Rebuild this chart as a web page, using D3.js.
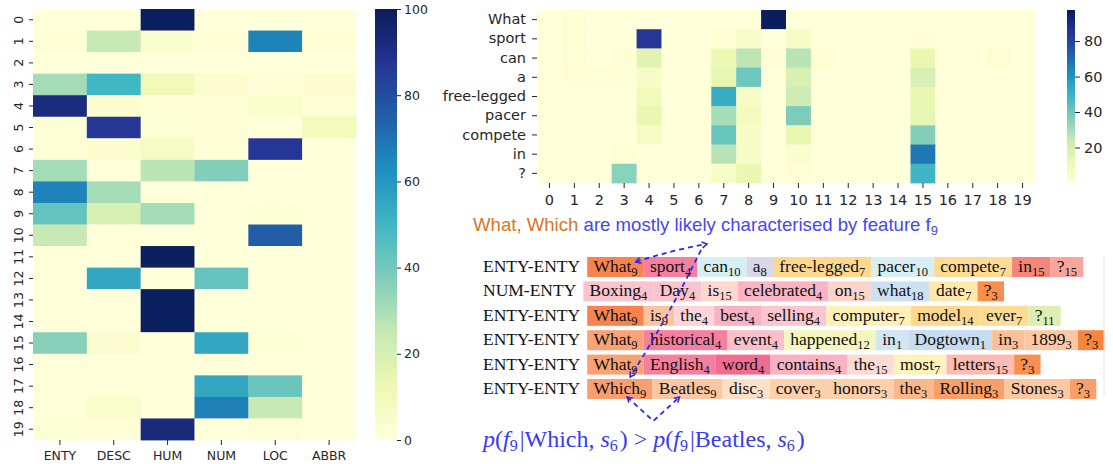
<!DOCTYPE html>
<html>
<head>
<meta charset="utf-8">
<script src="https://cdn.jsdelivr.net/npm/d3@7"></script>
<style>
  body { margin: 0; background: #fff; }
  svg { display: block; }
</style>
</head>
<body>
<div id="chart"></div>
<script>
// ---- data ----
const classes = ["ENTY", "DESC", "HUM", "NUM", "LOC", "ABBR"];
const features = ["0","1","2","3","4","5","6","7","8","9","10","11","12","13","14","15","16","17","18","19"];

// feature x class (rows = features)
const classByFeature = [
  [0, 0, 99, 0, 0, 0],
  [1, 25, 3, 1, 66, 1],
  [0, 0, 0, 0, 0, 0],
  [31, 50, 10, 3, 1, 3],
  [92, 3, 1, 1, 4, 1],
  [1, 87, 2, 1, 0, 9],
  [1, 3, 7, 1, 87, 0],
  [31, 0, 27, 37, 0, 0],
  [66, 31, 0, 0, 0, 0],
  [43, 20, 31, 0, 2, 0],
  [25, 0, 0, 0, 75, 0],
  [0, 0, 99, 0, 0, 0],
  [0, 55, 0, 43, 0, 0],
  [0, 0, 99, 0, 0, 0],
  [0, 0, 99, 0, 0, 0],
  [36, 3, 0, 55, 2, 0],
  [0, 0, 0, 0, 0, 0],
  [0, 0, 0, 55, 42, 0],
  [0, 4, 0, 67, 25, 0],
  [2, 1, 93, 0, 1, 0]
];

const words = ["What", "sport", "can", "a", "free-legged", "pacer", "compete", "in", "?"];
// word x feature
const wordByFeature = [
  [0, 2, 0, 0, 0, 0, 0, 0, 0, 97, 0, 0, 0, 0, 0, 0, 0, 0, 0, 0],
  [0, 2, 0, 0, 85, 0, 0, 2, 5, 0, 6, 0, 0, 0, 0, 1, 0, 0, 0, 0],
  [0, 2, 0, 1, 16, 0, 0, 12, 26, 1, 27, 2, 0, 0, 0, 13, 0, 0, 2, 0],
  [0, 1, 1, 1, 6, 0, 0, 14, 40, 0, 19, 0, 0, 0, 0, 19, 0, 0, 0, 0],
  [0, 0, 0, 0, 9, 0, 0, 52, 6, 0, 22, 0, 0, 0, 0, 13, 0, 0, 0, 0],
  [0, 0, 0, 0, 13, 0, 0, 30, 8, 0, 37, 0, 0, 0, 0, 14, 0, 0, 0, 0],
  [0, 0, 0, 0, 7, 0, 0, 41, 6, 0, 13, 0, 0, 0, 0, 36, 0, 0, 0, 0],
  [0, 0, 0, 1, 0, 0, 0, 27, 6, 0, 3, 0, 0, 0, 0, 67, 0, 0, 0, 0],
  [0, 0, 0, 35, 0, 0, 0, 5, 13, 0, 1, 0, 0, 0, 0, 49, 0, 0, 0, 0]
];

const sentenceLabels = ["ENTY-ENTY", "NUM-ENTY", "ENTY-ENTY", "ENTY-ENTY", "ENTY-ENTY", "ENTY-ENTY"];
// [token, feature, weight]
const sentenceTokens = [
  [["What", 9, 1.0], ["sport", 4, 0.8], ["can", 10, 0.6], ["a", 8, 0.6], ["free-legged", 7, 0.8],
   ["pacer", 10, 0.6], ["compete", 7, 0.75], ["in", 15, 0.89], ["?", 15, 0.58]],
  [["Boxing", 4, 0.23], ["Day", 4, 0.23], ["is", 15, 0.08], ["celebrated", 4, 0.36], ["on", 15, 0.14],
   ["what", 18, 0.6], ["date", 7, 0.35], ["?", 3, 0.87]],
  [["What", 9, 1.0], ["is", 9, 0.31], ["the", 4, 0.09], ["best", 4, 0.38], ["selling", 4, 0.22],
   ["computer", 7, 0.12], ["model", 14, 0.8], ["ever", 7, 0.7], ["?", 11, 0.6]],
  [["What", 9, 0.67], ["historical", 4, 0.8], ["event", 4, 0.27], ["happened", 12, 0.6], ["in", 1, 0.5],
   ["Dogtown", 1, 0.75], ["in", 3, 0.38], ["1899", 3, 0.3], ["?", 3, 0.97]],
  [["What", 9, 0.67], ["English", 4, 0.8], ["word", 4, 0.97], ["contains", 4, 0.38], ["the", 15, 0.05],
   ["most", 7, 0.05], ["letters", 15, 0.35], ["?", 3, 0.86]],
  [["Which", 9, 0.72], ["Beatles", 9, 0.28], ["disc", 3, 0.06], ["cover", 3, 0.22], ["honors", 3, 0.22],
   ["the", 3, 0.46], ["Rolling", 3, 0.7], ["Stones", 3, 0.3], ["?", 3, 0.7]]
];

// ---- styles ----
const ink = "#262626";
const axisFont = "DejaVu Sans, sans-serif";
const serif = "Liberation Serif, Times New Roman, serif";
const ylgnbu = ["#ffffd9", "#edf8b1", "#c7e9b4", "#7fcdbb", "#41b6c4", "#1d91c0", "#225ea8", "#253494", "#081d58"];
const featureRamp = {
  9: ["#fde0c4", "#f7844e"],
  4: ["#fde0e0", "#f26890"],
  3: ["#fee6d0", "#f7823c"],
  15: ["#fde0d8", "#f47a6e"],
  7: ["#fff4c0", "#fdd283"],
  14: ["#fff4c0", "#fdd283"],
  10: ["#eef8fa", "#c8e8ee"],
  8: ["#f0f0f6", "#c8c8de"],
  18: ["#eef4fa", "#b8d4ec"],
  1: ["#eef4fa", "#b8d4ec"],
  11: ["#f2f8d8", "#d0e898"],
  12: ["#fafcdc", "#eef4a8"]
};
const blue = "#2a2aee";

function cmap(vmin, vmax) {
  return d3.scaleLinear()
    .domain(ylgnbu.map((c, i) => vmin + (vmax - vmin) * i / 8))
    .range(ylgnbu)
    .clamp(true);
}

const svg = d3.select("#chart").append("svg")
  .attr("width", 1113)
  .attr("height", 464);

function styleAxis(g, size) {
  g.select(".domain").remove();
  g.selectAll("line").attr("stroke", ink);
  g.selectAll("text").attr("fill", ink).style("font-family", axisFont).style("font-size", size + "px");
}

function colorbar(id, x, w, y0, y1, vmin, vmax, ticks, size, tickLen, pad) {
  const col = cmap(vmin, vmax);
  const grad = svg.append("defs").append("linearGradient")
    .attr("id", id).attr("x1", 0).attr("y1", 1).attr("x2", 0).attr("y2", 0);
  d3.range(0, 1.0001, 0.02).forEach(t => {
    grad.append("stop").attr("offset", t).attr("stop-color", col(vmin + t * (vmax - vmin)));
  });
  svg.append("rect").attr("x", x).attr("y", y0).attr("width", w).attr("height", y1 - y0)
    .attr("fill", `url(#${id})`);
  const s = d3.scaleLinear().domain([vmin, vmax]).range([y1, y0]);
  svg.append("g").attr("transform", `translate(${x + w},0)`)
    .call(d3.axisRight(s).tickValues(ticks).tickSize(tickLen).tickPadding(pad))
    .call(g => styleAxis(g, size));
}

// ---- left heatmap ----
const lx = d3.scaleBand().domain(classes).range([33, 356]);
const ly = d3.scaleBand().domain(features).range([9, 440]);
const lcol = cmap(0, 100);
const leftCells = [];
classByFeature.forEach((row, i) => row.forEach((v, j) => leftCells.push({ f: features[i], c: classes[j], v })));

svg.append("g").selectAll("rect")
  .data(leftCells)
  .enter()
  .append("rect")
  .attr("x", d => lx(d.c))
  .attr("y", d => ly(d.f))
  .attr("width", lx.bandwidth() + 0.4)
  .attr("height", ly.bandwidth() + 0.4)
  .attr("fill", d => lcol(d.v));

svg.append("g").attr("transform", "translate(33,0)")
  .call(d3.axisLeft(ly).tickSize(4).tickPadding(3))
  .call(g => styleAxis(g, 12.5))
  .call(g => g.selectAll("text")
    .attr("x", 0).attr("dy", null)
    .attr("text-anchor", "middle")
    .attr("dominant-baseline", "central")
    .attr("transform", "translate(-15,0) rotate(-90)"));

svg.append("g").attr("transform", "translate(0,440)")
  .call(d3.axisBottom(lx).tickSize(5).tickPadding(6))
  .call(g => styleAxis(g, 12.5));

colorbar("cbL", 375, 22, 9, 440, 0, 100, [0, 20, 40, 60, 80, 100], 12.5, 4, 3);

// ---- right heatmap ----
const rx = d3.scaleBand().domain(features).range([537, 1035]);
const ry = d3.scaleBand().domain(words).range([10, 183]);
const rvmax = 97.5;
const rcol = cmap(0, rvmax);
const rightCells = [];
wordByFeature.forEach((row, i) => row.forEach((v, j) => rightCells.push({ w: words[i], f: features[j], v })));

svg.append("g").selectAll("rect")
  .data(rightCells)
  .enter()
  .append("rect")
  .attr("x", d => rx(d.f))
  .attr("y", d => ry(d.w))
  .attr("width", rx.bandwidth() + 0.4)
  .attr("height", ry.bandwidth() + 0.4)
  .attr("fill", d => rcol(d.v));

svg.append("g").attr("transform", "translate(537,0)")
  .call(d3.axisLeft(ry).tickSize(5).tickPadding(6))
  .call(g => styleAxis(g, 14.5));

svg.append("g").attr("transform", "translate(0,183)")
  .call(d3.axisBottom(rx).tickSize(5).tickPadding(7))
  .call(g => styleAxis(g, 14.5));

colorbar("cbR", 1067, 8, 10, 183, 0, rvmax, [20, 40, 60, 80], 14.5, 5, 4);

// ---- caption ----
const cap = svg.append("text")
  .attr("x", 473).attr("y", 231)
  .style("font-family", "Liberation Sans, Arial, sans-serif")
  .style("font-size", "18.6px");
cap.append("tspan").attr("fill", "#d9761f").text("What, Which ");
cap.append("tspan").attr("fill", "#4646f2").text("are mostly likely characterised by feature f");
cap.append("tspan").attr("fill", "#4646f2").attr("dy", 4).style("font-size", "13px").text("9");

// ---- token rows ----
const rowTop = 257, rowStep = 24.4, boxH = 20, pad = 6.2;
const boxes = [];
sentenceTokens.forEach((tokens, r) => {
  const top = rowTop + r * rowStep;
  const base = top + 15;
  const lab = svg.append("text")
    .attr("x", 483).attr("y", base)
    .attr("fill", "#111")
    .style("font-family", serif).style("font-size", "17.5px")
    .text(sentenceLabels[r]);
  let x = 483 + lab.node().getComputedTextLength() + 7;
  const rowBoxes = [];
  tokens.forEach(([word, f, w]) => {
    const g = svg.append("g");
    const rect = g.append("rect").attr("y", top).attr("height", boxH)
      .attr("fill", d3.interpolateRgb(featureRamp[f][0], featureRamp[f][1])(w));
    const t = g.append("text").attr("x", x + pad).attr("y", base)
      .attr("fill", "#111")
      .style("font-family", serif).style("font-size", "17.5px");
    t.append("tspan").text(word);
    t.append("tspan").attr("dy", 4).style("font-size", "12.5px").text(f);
    const wd = t.node().getComputedTextLength() + 2 * pad;
    rect.attr("x", x).attr("width", wd);
    rowBoxes.push({ x, w: wd, top });
    x += wd;
  });
  boxes.push(rowBoxes);
});

// ---- arrows ----
const defs = svg.append("defs");
defs.append("marker").attr("id", "ah")
  .attr("viewBox", "0 0 8 8").attr("refX", 6).attr("refY", 4)
  .attr("markerWidth", 8).attr("markerHeight", 8).attr("markerUnits", "userSpaceOnUse")
  .attr("orient", "auto-start-reverse")
  .append("path").attr("d", "M1,1 L6,4 L1,7").attr("fill", "none")
  .attr("stroke", blue).attr("stroke-width", 1.6);

const apex = [707, 244];
const what0 = boxes[0][0], which = boxes[5][0], beatles = boxes[5][1];
const arrowStyle = sel => sel.attr("fill", "none").attr("stroke", blue)
  .attr("stroke-width", 1.8).attr("stroke-dasharray", "5,4");

svg.append("path")
  .attr("d", `M${what0.x + what0.w - 8},${what0.top + 5} Q${apex[0] - 35},${apex[1] + 6} ${apex[0]},${apex[1]}`)
  .call(arrowStyle)
  .attr("marker-start", "url(#ah)").attr("marker-end", "url(#ah)");

svg.append("path")
  .attr("d", `M${apex[0] - 6},${apex[1] + 6} Q${apex[0] - 40},${which.top - 60} ${which.x + 43},${which.top - 2}`)
  .call(arrowStyle)
  .attr("marker-end", "url(#ah)");

const vBottom = which.top + boxH + 22;
const vMid = (which.x + 40 + beatles.x + 27) / 2;
svg.append("path")
  .attr("d", `M${which.x + 40},${which.top + boxH - 2} L${vMid},${vBottom} L${beatles.x + 27},${beatles.top + boxH - 2}`)
  .call(arrowStyle)
  .attr("marker-start", "url(#ah)").attr("marker-end", "url(#ah)");

// ---- formula ----
const fm = svg.append("text")
  .attr("x", 483).attr("y", 447)
  .attr("fill", "#3a3af0")
  .style("font-family", serif).style("font-size", "24px");
const it = (s) => fm.append("tspan").style("font-style", "italic").text(s);
const rm = (s) => fm.append("tspan").text(s);
const sub = (s) => { fm.append("tspan").attr("dy", 4).style("font-size", "16px").text(s); fm.append("tspan").attr("dy", -4).text("\u200a"); };
it("p"); rm("("); it("f"); sub("9"); rm("|Which, "); it("s"); sub("6"); rm(") > ");
it("p"); rm("("); it("f"); sub("9"); rm("|Beatles, "); it("s"); sub("6"); rm(")");

// faint frame line on the right of token panel
svg.append("line").attr("x1", 1104).attr("x2", 1104).attr("y1", 256).attr("y2", 396)
  .attr("stroke", "#e8e8e8");
</script>
</body>
</html>
